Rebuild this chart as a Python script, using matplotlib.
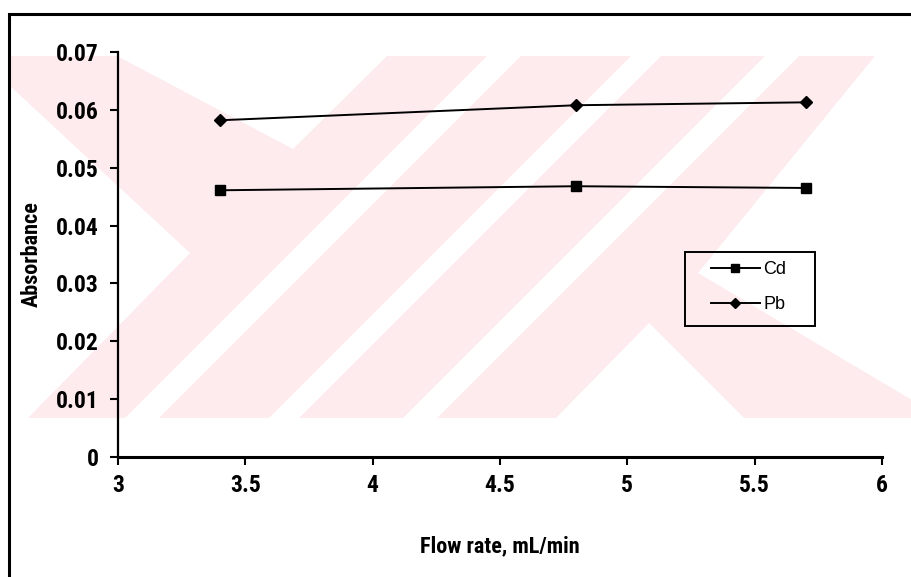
import matplotlib
matplotlib.use('Agg')
from matplotlib import pyplot as plt
from matplotlib import font_manager
from matplotlib.patches import Polygon, Rectangle

### Data
flow_rate = [3.4, 4.8, 5.7]
cd_abs = [0.0461, 0.0468, 0.0465]
pb_abs = [0.0582, 0.0608, 0.0613]

x_ticks = [3, 3.5, 4, 4.5, 5, 5.5, 6]
x_ticklabels = ['3', '3.5', '4', '4.5', '5', '5.5', '6']
y_ticks = [0, 0.01, 0.02, 0.03, 0.04, 0.05, 0.06, 0.07]
y_ticklabels = ['0', '0.01', '0.02', '0.03', '0.04', '0.05', '0.06', '0.07']

### Fonts: a narrow bold face, close to Arial Narrow Bold
fonts = font_manager.fontManager.ttflist
bold_faces = {f.name for f in fonts if f.weight in (700, 'bold')}
narrow = 'DejaVu Sans'
for cand in ['Roboto Condensed', 'Fira Sans Condensed', 'IBM Plex Sans Condensed',
             'Barlow Semi Condensed']:
    if cand in bold_faces:
        narrow = cand
        break
bold = dict(family=[narrow, 'DejaVu Sans'], weight='bold', stretch='condensed')
names = {f.name for f in fonts}
regular = 'Liberation Sans' if 'Liberation Sans' in names else 'DejaVu Sans'

W, H = 912, 577
fig = plt.figure(figsize=(W / 100, H / 100), dpi=100)

### Background watermark (pixel coords, y down)
bg = fig.add_axes([0, 0, 1, 1], zorder=0)
bg.set_xlim(0, W)
bg.set_ylim(H, 0)
bg.axis('off')
pink = '#fdebee'
bg.add_patch(Rectangle((10, 56), W - 10, 362, color=pink, lw=0, zorder=1))
white_shapes = [
    [(10, 86), (190, 253), (28, 418), (10, 418)],          # left ">"
    [(117, 56), (387, 56), (293, 149)],                    # top "V"
    [(487, 56), (521, 56), (159, 418), (125, 418)],        # "/" stripes
    [(631, 56), (661, 56), (299, 418), (269, 418)],
    [(765, 56), (799, 56), (437, 418), (403, 418)],
    [(649, 323), (556, 418), (744, 418)],                  # bottom wedge
    [(875, 56), (912, 56), (912, 400), (698, 273)],        # right "<"
]
for pts in white_shapes:
    poly = Polygon(pts, closed=True, color='white', lw=0, zorder=2)
    poly.set_clip_path(Rectangle((10, 56), W - 10, 362, transform=bg.transData))
    bg.add_patch(poly)

### Outer frame
bg.plot([9, 9, W], [H, 14, 14], color='black', lw=2.2, zorder=5,
        solid_joinstyle='miter')

### Main plot
ax = fig.add_axes([118 / W, 1 - 457 / H, (882 - 118) / W, (457 - 52) / H], zorder=1)
ax.set_facecolor('none')

ax.plot(flow_rate, cd_abs, color='black', lw=1.4, marker='s', ms=7.5, label='Cd')
ax.plot(flow_rate, pb_abs, color='black', lw=1.4, marker='D', ms=6.5, label='Pb')

ax.set_xlim(3, 6)
ax.set_ylim(0, 0.07)
ax.set_xticks(x_ticks)
ax.set_xticklabels(x_ticklabels, fontsize=17, **bold)
ax.set_yticks(y_ticks)
ax.set_yticklabels(y_ticklabels, fontsize=17, **bold)

for s in ['top', 'right']:
    ax.spines[s].set_visible(False)
ax.spines['left'].set_linewidth(1.6)
ax.spines['bottom'].set_linewidth(2.2)
ax.tick_params(axis='both', direction='out', length=6, width=1.5, colors='black')
ax.tick_params(axis='y', pad=8)
ax.tick_params(axis='x', pad=6)

ax.set_xlabel('Flow rate, mL/min', fontsize=16, labelpad=28, **bold)
ax.set_ylabel('Absorbance', fontsize=16, labelpad=9, **bold)

### Legend with a plain box
leg = ax.legend(loc='upper left', bbox_to_anchor=(0.776, 0.484), frameon=False,
                borderpad=0, borderaxespad=0, handlelength=2.7, handletextpad=0.2,
                labelspacing=1.0, markerscale=0.8,
                prop=dict(family=regular, size=13))
ax.add_patch(Rectangle((0.742, 0.323), 0.170, 0.183, transform=ax.transAxes,
                       fill=False, edgecolor='black', lw=1.4, clip_on=False))

fig.savefig('out.png', dpi=100)
